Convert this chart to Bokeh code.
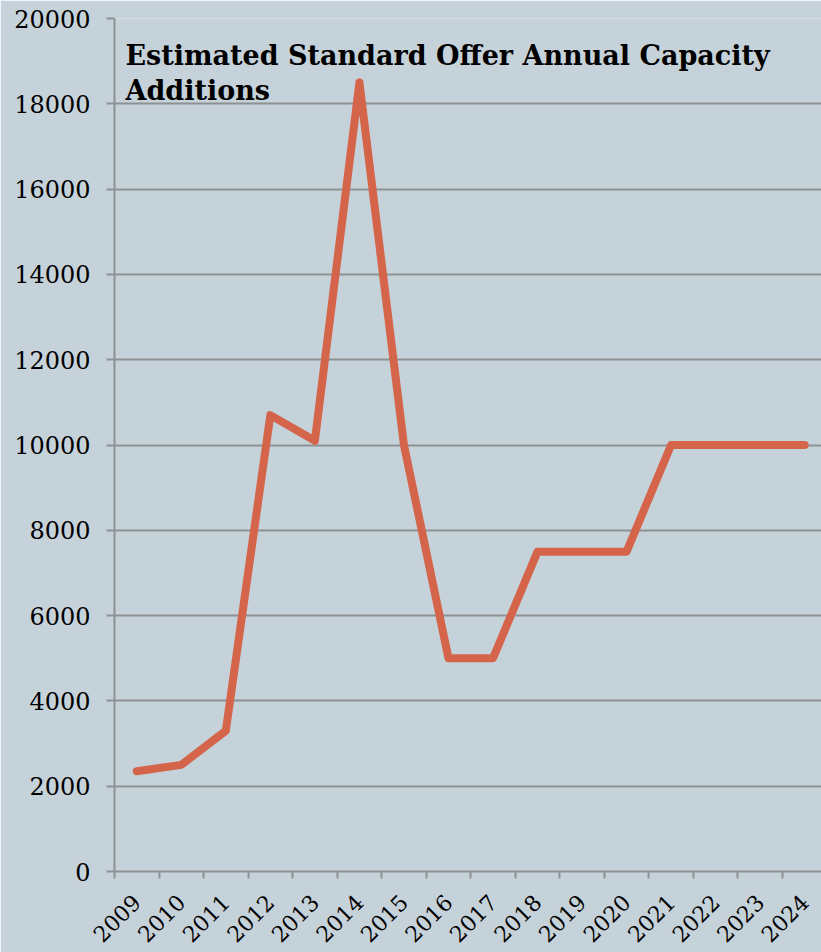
import math
from bokeh.plotting import figure
from bokeh.models import FixedTicker, Label, Range1d
from bokeh.embed import file_html
from bokeh.resources import INLINE

years = ["2009", "2010", "2011", "2012", "2013", "2014", "2015", "2016",
         "2017", "2018", "2019", "2020", "2021", "2022", "2023", "2024"]
capacity = [2350, 2500, 3300, 10700, 10100, 18500, 10000, 5000,
            5000, 7500, 7500, 7500, 10000, 10000, 10000, 10000]
y_ticks = [0, 2000, 4000, 6000, 8000, 10000, 12000, 14000, 16000, 18000, 20000]
title_lines = ["Estimated Standard Offer Annual Capacity", "Additions"]

BG = "#c6d2d9"
GRID = "#8d9194"
LINE = "#d4644a"
FONT = "DejaVu Serif"

xs = list(range(len(years)))

p = figure(width=821, height=952, output_backend="svg", toolbar_location=None,
           x_range=Range1d(-0.5, 15.377), y_range=Range1d(0, 20000),
           min_border_left=114, min_border_top=18, min_border_right=0,
           min_border_bottom=79)
p.background_fill_color = BG
p.border_fill_color = BG
p.outline_line_color = None

p.line(xs, capacity, line_color=LINE, line_width=8, line_cap="round", line_join="round")

# x axis
p.xaxis.ticker = FixedTicker(ticks=xs, minor_ticks=[i - 0.5 for i in range(len(years) + 1)])
p.xaxis.major_label_overrides = {i: y for i, y in enumerate(years)}
p.xaxis.major_tick_line_color = None
p.xaxis.major_tick_out = 7
p.xaxis.minor_tick_line_color = GRID
p.xaxis.minor_tick_line_width = 2
p.xaxis.minor_tick_out = 7
p.xaxis.minor_tick_in = 0
p.xaxis.axis_line_color = GRID
p.xaxis.axis_line_width = 2
p.xaxis.major_label_orientation = math.pi / 4
p.xaxis.major_label_text_font = FONT
p.xaxis.major_label_text_font_size = "22px"
p.xaxis.major_label_text_color = "black"
p.xaxis.major_label_standoff = 20

# y axis
p.yaxis.ticker = FixedTicker(ticks=y_ticks, minor_ticks=[])
p.yaxis.major_tick_line_color = GRID
p.yaxis.major_tick_line_width = 2
p.yaxis.major_tick_out = 8
p.yaxis.major_tick_in = 0
p.yaxis.axis_line_color = GRID
p.yaxis.axis_line_width = 2
p.yaxis.major_label_text_font = FONT
p.yaxis.major_label_text_font_size = "24px"
p.yaxis.major_label_text_color = "black"
p.yaxis.major_label_standoff = 16

p.xgrid.grid_line_color = None
p.ygrid.ticker = FixedTicker(ticks=y_ticks[1:])
p.ygrid.grid_line_color = GRID
p.ygrid.grid_line_width = 2

for i, t in enumerate(title_lines):
    p.add_layout(Label(x=11, y=816 - i * 35, x_units="screen", y_units="screen",
                       text=t, text_font=FONT, text_font_size="27px",
                       text_font_style="bold", text_color="black",
                       text_baseline="alphabetic"))

html = file_html(p, INLINE)
html = html.replace("<body>", '<body style="margin:0;overflow:hidden;background:%s">' % BG, 1)
open("out.html", "w").write(html)
